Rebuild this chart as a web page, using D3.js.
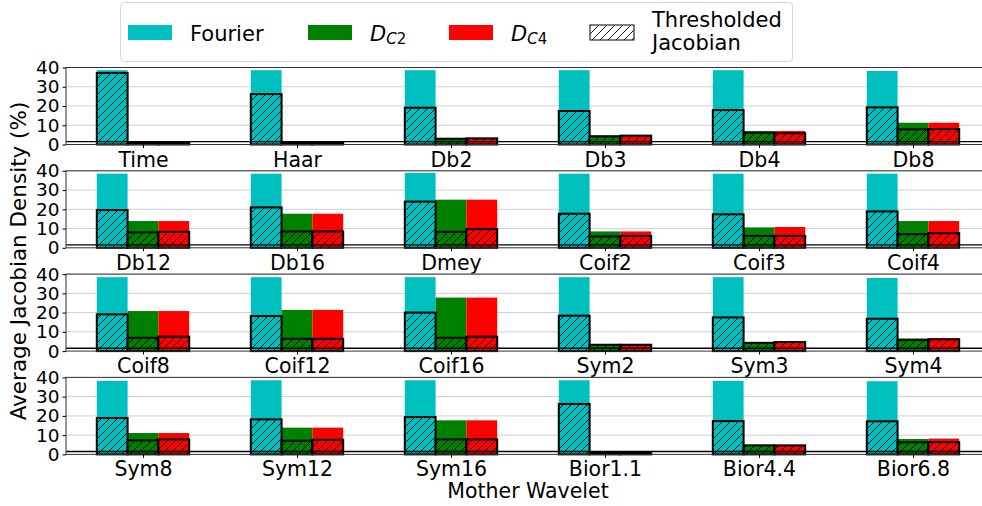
<!DOCTYPE html>
<html>
<head>
<meta charset="utf-8">
<script src="https://cdn.jsdelivr.net/npm/d3@7"></script>
<style>
  html, body { margin: 0; padding: 0; background: #fff; }
  svg { display: block; font-family: "DejaVu Sans", sans-serif; }
</style>
</head>
<body>
<svg id="chart" width="982" height="506"></svg>
<script>
// Mother wavelets, six per row
const categories = ["Time", "Haar", "Db2", "Db3", "Db4", "Db8",
  "Db12", "Db16", "Dmey", "Coif2", "Coif3", "Coif4",
  "Coif8", "Coif12", "Coif16", "Sym2", "Sym3", "Sym4",
  "Sym8", "Sym12", "Sym16", "Bior1.1", "Bior4.4", "Bior6.8"];

// Average Jacobian density (%) — full and thresholded
const fourierFull = [38.6, 38.6, 38.6, 38.6, 38.6, 38.2, 38.5, 38.5, 38.9, 38.5, 38.5, 38.5,
  38.4, 38.4, 38.4, 38.4, 38.4, 38.0, 38.2, 38.5, 38.5, 38.5, 38.2, 38.0];
const fourierThr = [37.2, 26.2, 19.1, 17.4, 17.9, 19.3, 19.6, 21.0, 24.0, 17.7, 17.4, 18.9,
  19.1, 18.2, 20.0, 18.4, 17.5, 16.8, 18.9, 18.2, 19.4, 26.2, 17.3, 17.2];
const dc2Full = [0.9, 0.8, 3.2, 4.8, 7.0, 11.3, 13.9, 17.7, 25.0, 8.5, 10.6, 13.9,
  20.8, 21.4, 27.8, 3.5, 4.7, 6.6, 11.1, 13.9, 17.7, 0.8, 5.0, 8.0];
const dc2Thr = [0.9, 0.8, 3.0, 4.2, 6.1, 7.9, 8.0, 8.5, 8.3, 5.9, 6.2, 7.1,
  6.9, 6.4, 6.9, 3.3, 4.3, 5.7, 7.3, 7.1, 7.8, 0.8, 4.7, 6.3];
const dc4Full = [1.0, 0.8, 3.2, 5.0, 7.0, 11.3, 13.9, 17.7, 25.0, 8.5, 10.8, 13.9,
  20.8, 21.4, 27.8, 3.5, 4.7, 6.8, 11.1, 13.9, 17.7, 0.8, 4.9, 8.2];
const dc4Thr = [1.0, 0.8, 3.2, 4.6, 5.8, 8.0, 8.3, 8.5, 9.7, 6.2, 6.2, 7.6,
  7.5, 6.4, 7.5, 3.3, 4.7, 6.1, 7.8, 7.6, 7.8, 0.8, 4.7, 6.4];

const yTicks = [0, 10, 20, 30, 40];
const thresholdLevel = 1.5;

const seriesNames = ["Fourier", "DC2", "DC4"];
const seriesColors = ["#00bfbf", "#008000", "#ff0000"];
const fullValues = [fourierFull, dc2Full, dc4Full];
const thrValues = [fourierThr, dc2Thr, dc4Thr];

const svg = d3.select("#chart");
const defs = svg.append("defs");

// diagonal '//' hatch
defs.append("pattern")
  .attr("id", "hatch")
  .attr("patternUnits", "userSpaceOnUse")
  .attr("width", 8).attr("height", 8)
  .append("path")
  .attr("d", "M-2,2 L2,-2 M0,8 L8,0 M6,10 L10,6")
  .attr("stroke", "#000")
  .attr("stroke-width", 0.9)
  .attr("fill", "none");

const nRows = 4, perRow = 6;
const rowTop = [67.5, 170.8, 274.1, 377.4];
const rowH = 77;
const x = d3.scaleLinear().domain([-0.5, 5.5]).range([66, 990]);
const barW = x(0.2) - x(0);

for (let r = 0; r < nRows; r++) {
  const y = d3.scaleLinear().domain([0, 40]).range([rowTop[r] + rowH, rowTop[r]]);
  const g = svg.append("g");
  const idx = d3.range(r * perRow, (r + 1) * perRow);

  // grid
  g.selectAll(".grid").data(yTicks.slice(1)).join("line")
    .attr("x1", x(-0.5)).attr("x2", x(5.5))
    .attr("y1", d => y(d)).attr("y2", d => y(d))
    .attr("stroke", "#cfcfcf").attr("stroke-width", 1);

  // bars
  seriesNames.forEach((s, k) => {
    const off = (k - 1) * 0.2 - 0.1;
    // full density
    g.selectAll(".full" + k).data(idx).join("rect")
      .attr("x", (d, i) => x(i + off))
      .attr("width", barW)
      .attr("y", d => y(fullValues[k][d]))
      .attr("height", d => y(0) - y(fullValues[k][d]))
      .attr("fill", seriesColors[k]);
  });
  seriesNames.forEach((s, k) => {
    const off = (k - 1) * 0.2 - 0.1;
    // thresholded density
    g.selectAll(".thrf" + k).data(idx).join("rect")
      .attr("x", (d, i) => x(i + off))
      .attr("width", barW)
      .attr("y", d => y(thrValues[k][d]))
      .attr("height", d => y(0) - y(thrValues[k][d]))
      .attr("fill", seriesColors[k]);
    g.selectAll(".thrh" + k).data(idx).join("rect")
      .attr("x", (d, i) => x(i + off))
      .attr("width", barW)
      .attr("y", d => y(thrValues[k][d]))
      .attr("height", d => y(0) - y(thrValues[k][d]))
      .attr("fill", "url(#hatch)")
      .attr("stroke", "#000").attr("stroke-width", 2);
  });

  // threshold line
  g.append("line")
    .attr("x1", x(-0.5)).attr("x2", x(5.5))
    .attr("y1", y(thresholdLevel)).attr("y2", y(thresholdLevel))
    .attr("stroke", "#000").attr("stroke-width", 1.4);

  // spines
  g.append("rect")
    .attr("x", x(-0.5)).attr("y", y(40))
    .attr("width", x(5.5) - x(-0.5)).attr("height", y(0) - y(40))
    .attr("fill", "none").attr("stroke", "#333").attr("stroke-width", 1);

  // y axis
  const ya = d3.axisLeft(y).tickValues(yTicks).tickSize(3.5).tickPadding(3);
  const yg = g.append("g").attr("transform", `translate(${x(-0.5)},0)`).call(ya);
  yg.select(".domain").remove();
  yg.selectAll("text").attr("font-size", 18.5).attr("fill", "#000")
    .attr("font-family", "DejaVu Sans");

  // x axis with wavelet names
  const xa = d3.axisBottom(x).tickValues(d3.range(perRow))
    .tickFormat(i => categories[r * perRow + i]).tickSize(3.5).tickPadding(4);
  const xg = g.append("g").attr("transform", `translate(0,${y(0)})`).call(xa);
  xg.select(".domain").remove();
  xg.selectAll("text").attr("font-size", 20.5).attr("fill", "#000")
    .attr("font-family", "DejaVu Sans");
}

// axis titles
svg.append("text")
  .attr("x", 528).attr("y", 498)
  .attr("text-anchor", "middle")
  .attr("font-size", 20.5)
  .text("Mother Wavelet");

svg.append("text")
  .attr("transform", "translate(26,261) rotate(-90)")
  .attr("text-anchor", "middle")
  .attr("font-size", 21.5)
  .text("Average Jacobian Density (%)");

// legend
const lg = svg.append("g");
lg.append("rect")
  .attr("x", 120.5).attr("y", 2.5).attr("width", 672).attr("height", 59)
  .attr("rx", 4).attr("fill", "#fff").attr("stroke", "#d6d6d6");

const patchX = [128, 308, 449, 590];
const textX = [190, 370, 511, 652];
seriesColors.forEach((c, k) => {
  lg.append("rect").attr("x", patchX[k]).attr("y", 25).attr("width", 44).attr("height", 15)
    .attr("fill", c);
});
lg.append("rect").attr("x", patchX[3]).attr("y", 25).attr("width", 44).attr("height", 15)
  .attr("fill", "url(#hatch)").attr("stroke", "#000").attr("stroke-width", 1);

lg.append("text").attr("x", textX[0]).attr("y", 41).attr("font-size", 21).text("Fourier");

[["2", textX[1]], ["4", textX[2]]].forEach(([n, tx]) => {
  const t = lg.append("text").attr("x", tx).attr("y", 41).attr("font-size", 21);
  t.append("tspan").attr("font-style", "italic").text("D");
  t.append("tspan").attr("font-size", 15).attr("dy", 3).attr("font-style", "italic").text("C");
  t.append("tspan").attr("font-size", 15).text(n);
});

const th = lg.append("text").attr("x", textX[3]).attr("font-size", 21);
th.append("tspan").attr("x", textX[3]).attr("y", 27).text("Thresholded");
th.append("tspan").attr("x", textX[3]).attr("y", 49.5).text("Jacobian");
</script>
</body>
</html>
